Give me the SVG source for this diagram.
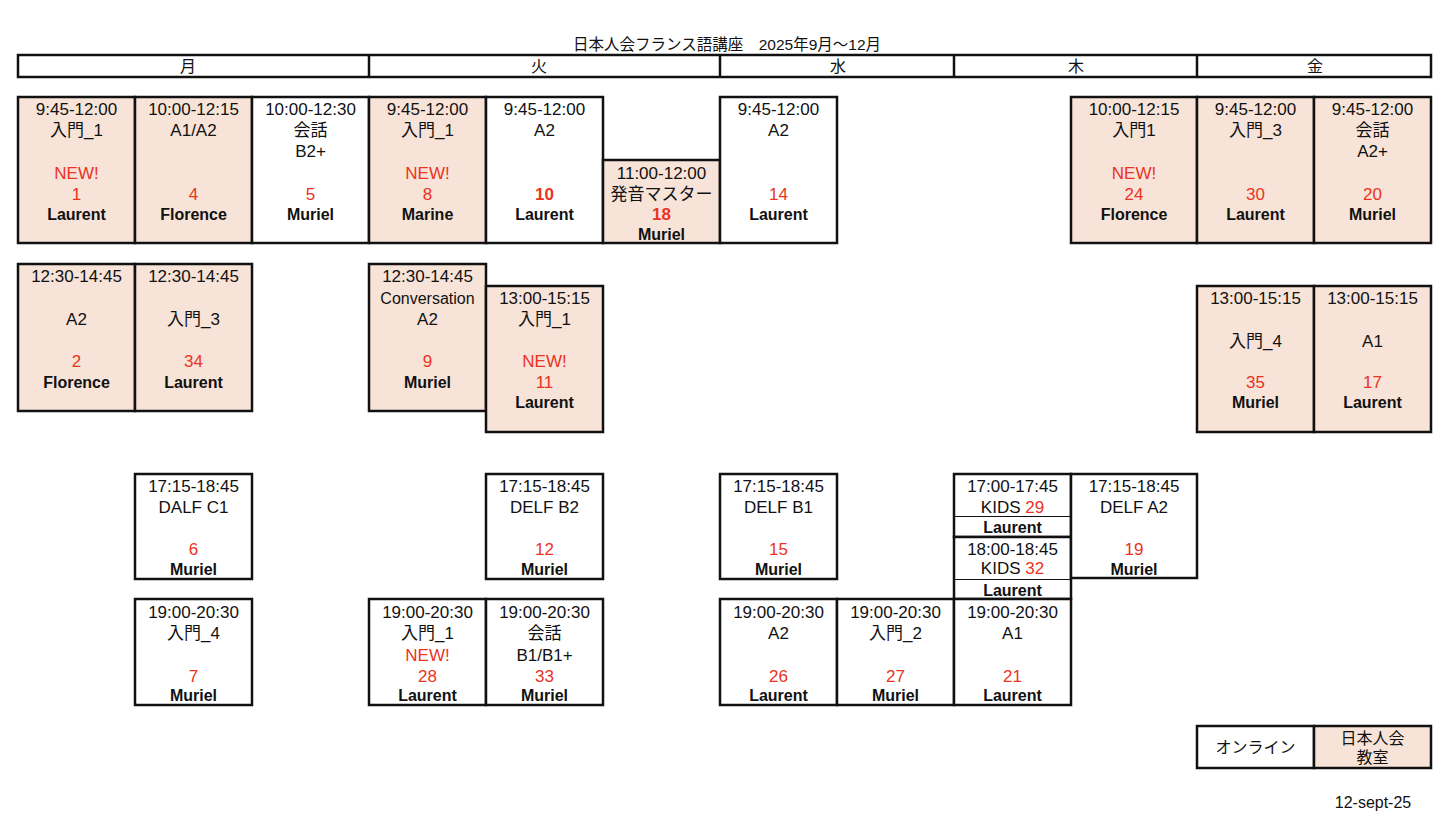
<svg xmlns="http://www.w3.org/2000/svg" width="1450" height="828" viewBox="0 0 1450 828">
<style>
text{font-family:"Liberation Sans","Noto Sans CJK JP",sans-serif;font-size:17px;fill:#111;text-anchor:middle}
.w{fill:#fff;stroke:#111;stroke-width:2.5}
.p{fill:#f7e3d7;stroke:#111;stroke-width:2.5}
.r{fill:#ea3323}
.rb{fill:#ea3323;font-weight:bold}
.n{font-weight:bold;font-size:16px}
.thin{stroke:#111;stroke-width:1}
.thick{stroke:#111;stroke-width:2.5}
.tt{font-size:15.5px}
.h{font-size:16px}
.cv{font-size:16px}
</style>
<rect width="1450" height="828" fill="#fff"/>
<text id="title" class="tt" x="727" y="50">日本人会フランス語講座　2025年9月〜12月</text>
<g id="header">
<rect class="w" x="18" y="55" width="1413" height="22"/>
<line class="thick" x1="369" y1="55" x2="369" y2="77"/>
<line class="thick" x1="720" y1="55" x2="720" y2="77"/>
<line class="thick" x1="954" y1="55" x2="954" y2="77"/>
<line class="thick" x1="1197" y1="55" x2="1197" y2="77"/>
<text class="h" x="188" y="72">月</text>
<text class="h" x="539" y="72">火</text>
<text class="h" x="838" y="72">水</text>
<text class="h" x="1076" y="72">木</text>
<text class="h" x="1315" y="72">金</text>
</g>
<g id="connectors"></g>
<!-- Row 1 -->
<g id="c1"><rect class="p" x="18" y="97" width="117" height="146"/>
<text x="76.5" y="115">9:45-12:00</text><text x="76.5" y="136">入門_1</text><text class="r" x="76.5" y="178.5">NEW!</text><text class="r" x="76.5" y="199.5">1</text><text class="n" x="76.5" y="219.5">Laurent</text></g>
<g id="c4"><rect class="p" x="135" y="97" width="117" height="146"/>
<text x="193.5" y="115">10:00-12:15</text><text x="193.5" y="136">A1/A2</text><text class="r" x="193.5" y="199.5">4</text><text class="n" x="193.5" y="219.5">Florence</text></g>
<g id="c5"><rect class="w" x="252" y="97" width="117" height="146"/>
<text x="310.5" y="115">10:00-12:30</text><text x="310.5" y="136">会話</text><text x="310.5" y="157">B2+</text><text class="r" x="310.5" y="199.5">5</text><text class="n" x="310.5" y="219.5">Muriel</text></g>
<g id="c8"><rect class="p" x="369" y="97" width="117" height="146"/>
<text x="427.5" y="115">9:45-12:00</text><text x="427.5" y="136">入門_1</text><text class="r" x="427.5" y="178.5">NEW!</text><text class="r" x="427.5" y="199.5">8</text><text class="n" x="427.5" y="219.5">Marine</text></g>
<g id="c10"><rect class="w" x="486" y="97" width="117" height="146"/>
<text x="544.5" y="115">9:45-12:00</text><text x="544.5" y="136">A2</text><text class="rb" x="544.5" y="199.5">10</text><text class="n" x="544.5" y="219.5">Laurent</text></g>
<g id="c18"><rect class="p" x="603" y="160" width="117" height="83"/>
<text x="661.5" y="178.5">11:00-12:00</text><text x="661.5" y="199.5">発音マスター</text><text class="rb" x="661.5" y="219.5">18</text><text class="n" x="661.5" y="239.5">Muriel</text></g>
<g id="c14"><rect class="w" x="720" y="97" width="117" height="146"/>
<text x="778.5" y="115">9:45-12:00</text><text x="778.5" y="136">A2</text><text class="r" x="778.5" y="199.5">14</text><text class="n" x="778.5" y="219.5">Laurent</text></g>
<g id="c24"><rect class="p" x="1071" y="97" width="126" height="146"/>
<text x="1134" y="115">10:00-12:15</text><text x="1134" y="136">入門1</text><text class="r" x="1134" y="178.5">NEW!</text><text class="r" x="1134" y="199.5">24</text><text class="n" x="1134" y="219.5">Florence</text></g>
<g id="c30"><rect class="p" x="1197" y="97" width="117" height="146"/>
<text x="1255.5" y="115">9:45-12:00</text><text x="1255.5" y="136">入門_3</text><text class="r" x="1255.5" y="199.5">30</text><text class="n" x="1255.5" y="219.5">Laurent</text></g>
<g id="c20"><rect class="p" x="1314" y="97" width="117" height="146"/>
<text x="1372.5" y="115">9:45-12:00</text><text x="1372.5" y="136">会話</text><text x="1372.5" y="157">A2+</text><text class="r" x="1372.5" y="199.5">20</text><text class="n" x="1372.5" y="219.5">Muriel</text></g>
<!-- Row 2 -->
<g id="c2"><rect class="p" x="18" y="264" width="117" height="147"/>
<text x="76.5" y="282">12:30-14:45</text><text x="76.5" y="325">A2</text><text class="r" x="76.5" y="367">2</text><text class="n" x="76.5" y="387.5">Florence</text></g>
<g id="c34"><rect class="p" x="135" y="264" width="117" height="147"/>
<text x="193.5" y="282">12:30-14:45</text><text x="193.5" y="325">入門_3</text><text class="r" x="193.5" y="367">34</text><text class="n" x="193.5" y="387.5">Laurent</text></g>
<g id="c9"><rect class="p" x="369" y="264" width="117" height="147"/>
<text x="427.5" y="282">12:30-14:45</text><text class="cv" x="427.5" y="304">Conversation</text><text x="427.5" y="325">A2</text><text class="r" x="427.5" y="367">9</text><text class="n" x="427.5" y="387.5">Muriel</text></g>
<g id="c11"><rect class="p" x="486" y="286" width="117" height="146"/>
<text x="544.5" y="304">13:00-15:15</text><text x="544.5" y="325">入門_1</text><text class="r" x="544.5" y="367">NEW!</text><text class="r" x="544.5" y="387.5">11</text><text class="n" x="544.5" y="407.5">Laurent</text></g>
<g id="c35"><rect class="p" x="1197" y="286" width="117" height="146"/>
<text x="1255.5" y="304">13:00-15:15</text><text x="1255.5" y="346.5">入門_4</text><text class="r" x="1255.5" y="387.5">35</text><text class="n" x="1255.5" y="407.5">Muriel</text></g>
<g id="c17"><rect class="p" x="1314" y="286" width="117" height="146"/>
<text x="1372.5" y="304">13:00-15:15</text><text x="1372.5" y="346.5">A1</text><text class="r" x="1372.5" y="387.5">17</text><text class="n" x="1372.5" y="407.5">Laurent</text></g>
<!-- Row 3 -->
<g id="c6"><rect class="w" x="135" y="474" width="117" height="105"/>
<text x="193.5" y="492">17:15-18:45</text><text x="193.5" y="512.5">DALF C1</text><text class="r" x="193.5" y="554.5">6</text><text class="n" x="193.5" y="574.5">Muriel</text></g>
<g id="c12"><rect class="w" x="486" y="474" width="117" height="105"/>
<text x="544.5" y="492">17:15-18:45</text><text x="544.5" y="512.5">DELF B2</text><text class="r" x="544.5" y="554.5">12</text><text class="n" x="544.5" y="574.5">Muriel</text></g>
<g id="c15"><rect class="w" x="720" y="474" width="117" height="105"/>
<text x="778.5" y="492">17:15-18:45</text><text x="778.5" y="512.5">DELF B1</text><text class="r" x="778.5" y="554.5">15</text><text class="n" x="778.5" y="574.5">Muriel</text></g>
<g id="c29"><rect class="w" x="954" y="474" width="117" height="63"/>
<line class="thin" x1="954" y1="516.5" x2="1071" y2="516.5"/>
<text x="1012.5" y="492">17:00-17:45</text><text x="1012.5" y="512.5">KIDS <tspan class="r">29</tspan></text><text class="n" x="1012.5" y="533">Laurent</text></g>
<g id="c32"><rect class="w" x="954" y="537" width="117" height="62"/>
<line class="thin" x1="954" y1="579.5" x2="1071" y2="579.5"/>
<text x="1012.5" y="555">18:00-18:45</text><text x="1012.5" y="573.5">KIDS <tspan class="r">32</tspan></text><text class="n" x="1012.5" y="595.5">Laurent</text></g>
<g id="c19"><rect class="w" x="1071" y="474" width="126" height="104"/>
<text x="1134" y="492">17:15-18:45</text><text x="1134" y="512.5">DELF A2</text><text class="r" x="1134" y="554.5">19</text><text class="n" x="1134" y="574.5">Muriel</text></g>
<!-- Row 4 -->
<g id="c7"><rect class="w" x="135" y="599" width="117" height="106"/>
<text x="193.5" y="617.5">19:00-20:30</text><text x="193.5" y="639">入門_4</text><text class="r" x="193.5" y="681.5">7</text><text class="n" x="193.5" y="700.5">Muriel</text></g>
<g id="c28"><rect class="w" x="369" y="599" width="117" height="106"/>
<text x="427.5" y="617.5">19:00-20:30</text><text x="427.5" y="639">入門_1</text><text class="r" x="427.5" y="660.5">NEW!</text><text class="r" x="427.5" y="681.5">28</text><text class="n" x="427.5" y="700.5">Laurent</text></g>
<g id="c33"><rect class="w" x="486" y="599" width="117" height="106"/>
<text x="544.5" y="617.5">19:00-20:30</text><text x="544.5" y="639">会話</text><text x="544.5" y="660.5">B1/B1+</text><text class="r" x="544.5" y="681.5">33</text><text class="n" x="544.5" y="700.5">Muriel</text></g>
<g id="c26"><rect class="w" x="720" y="599" width="117" height="106"/>
<text x="778.5" y="617.5">19:00-20:30</text><text x="778.5" y="639">A2</text><text class="r" x="778.5" y="681.5">26</text><text class="n" x="778.5" y="700.5">Laurent</text></g>
<g id="c27"><rect class="w" x="837" y="599" width="117" height="106"/>
<text x="895.5" y="617.5">19:00-20:30</text><text x="895.5" y="639">入門_2</text><text class="r" x="895.5" y="681.5">27</text><text class="n" x="895.5" y="700.5">Muriel</text></g>
<g id="c21"><rect class="w" x="954" y="599" width="117" height="106"/>
<text x="1012.5" y="617.5">19:00-20:30</text><text x="1012.5" y="639">A1</text><text class="r" x="1012.5" y="681.5">21</text><text class="n" x="1012.5" y="700.5">Laurent</text></g>
<!-- Legend -->
<g id="legend-online"><rect class="w" x="1197" y="726" width="117" height="42"/>
<text class="h" x="1255.5" y="753">オンライン</text></g>
<g id="legend-room"><rect class="p" x="1314" y="726" width="117" height="42"/>
<text class="h" x="1372.5" y="744">日本人会</text><text class="h" x="1372.5" y="763">教室</text></g>
<text id="date" x="1373" y="808" style="font-size:16px">12-sept-25</text>
</svg>
